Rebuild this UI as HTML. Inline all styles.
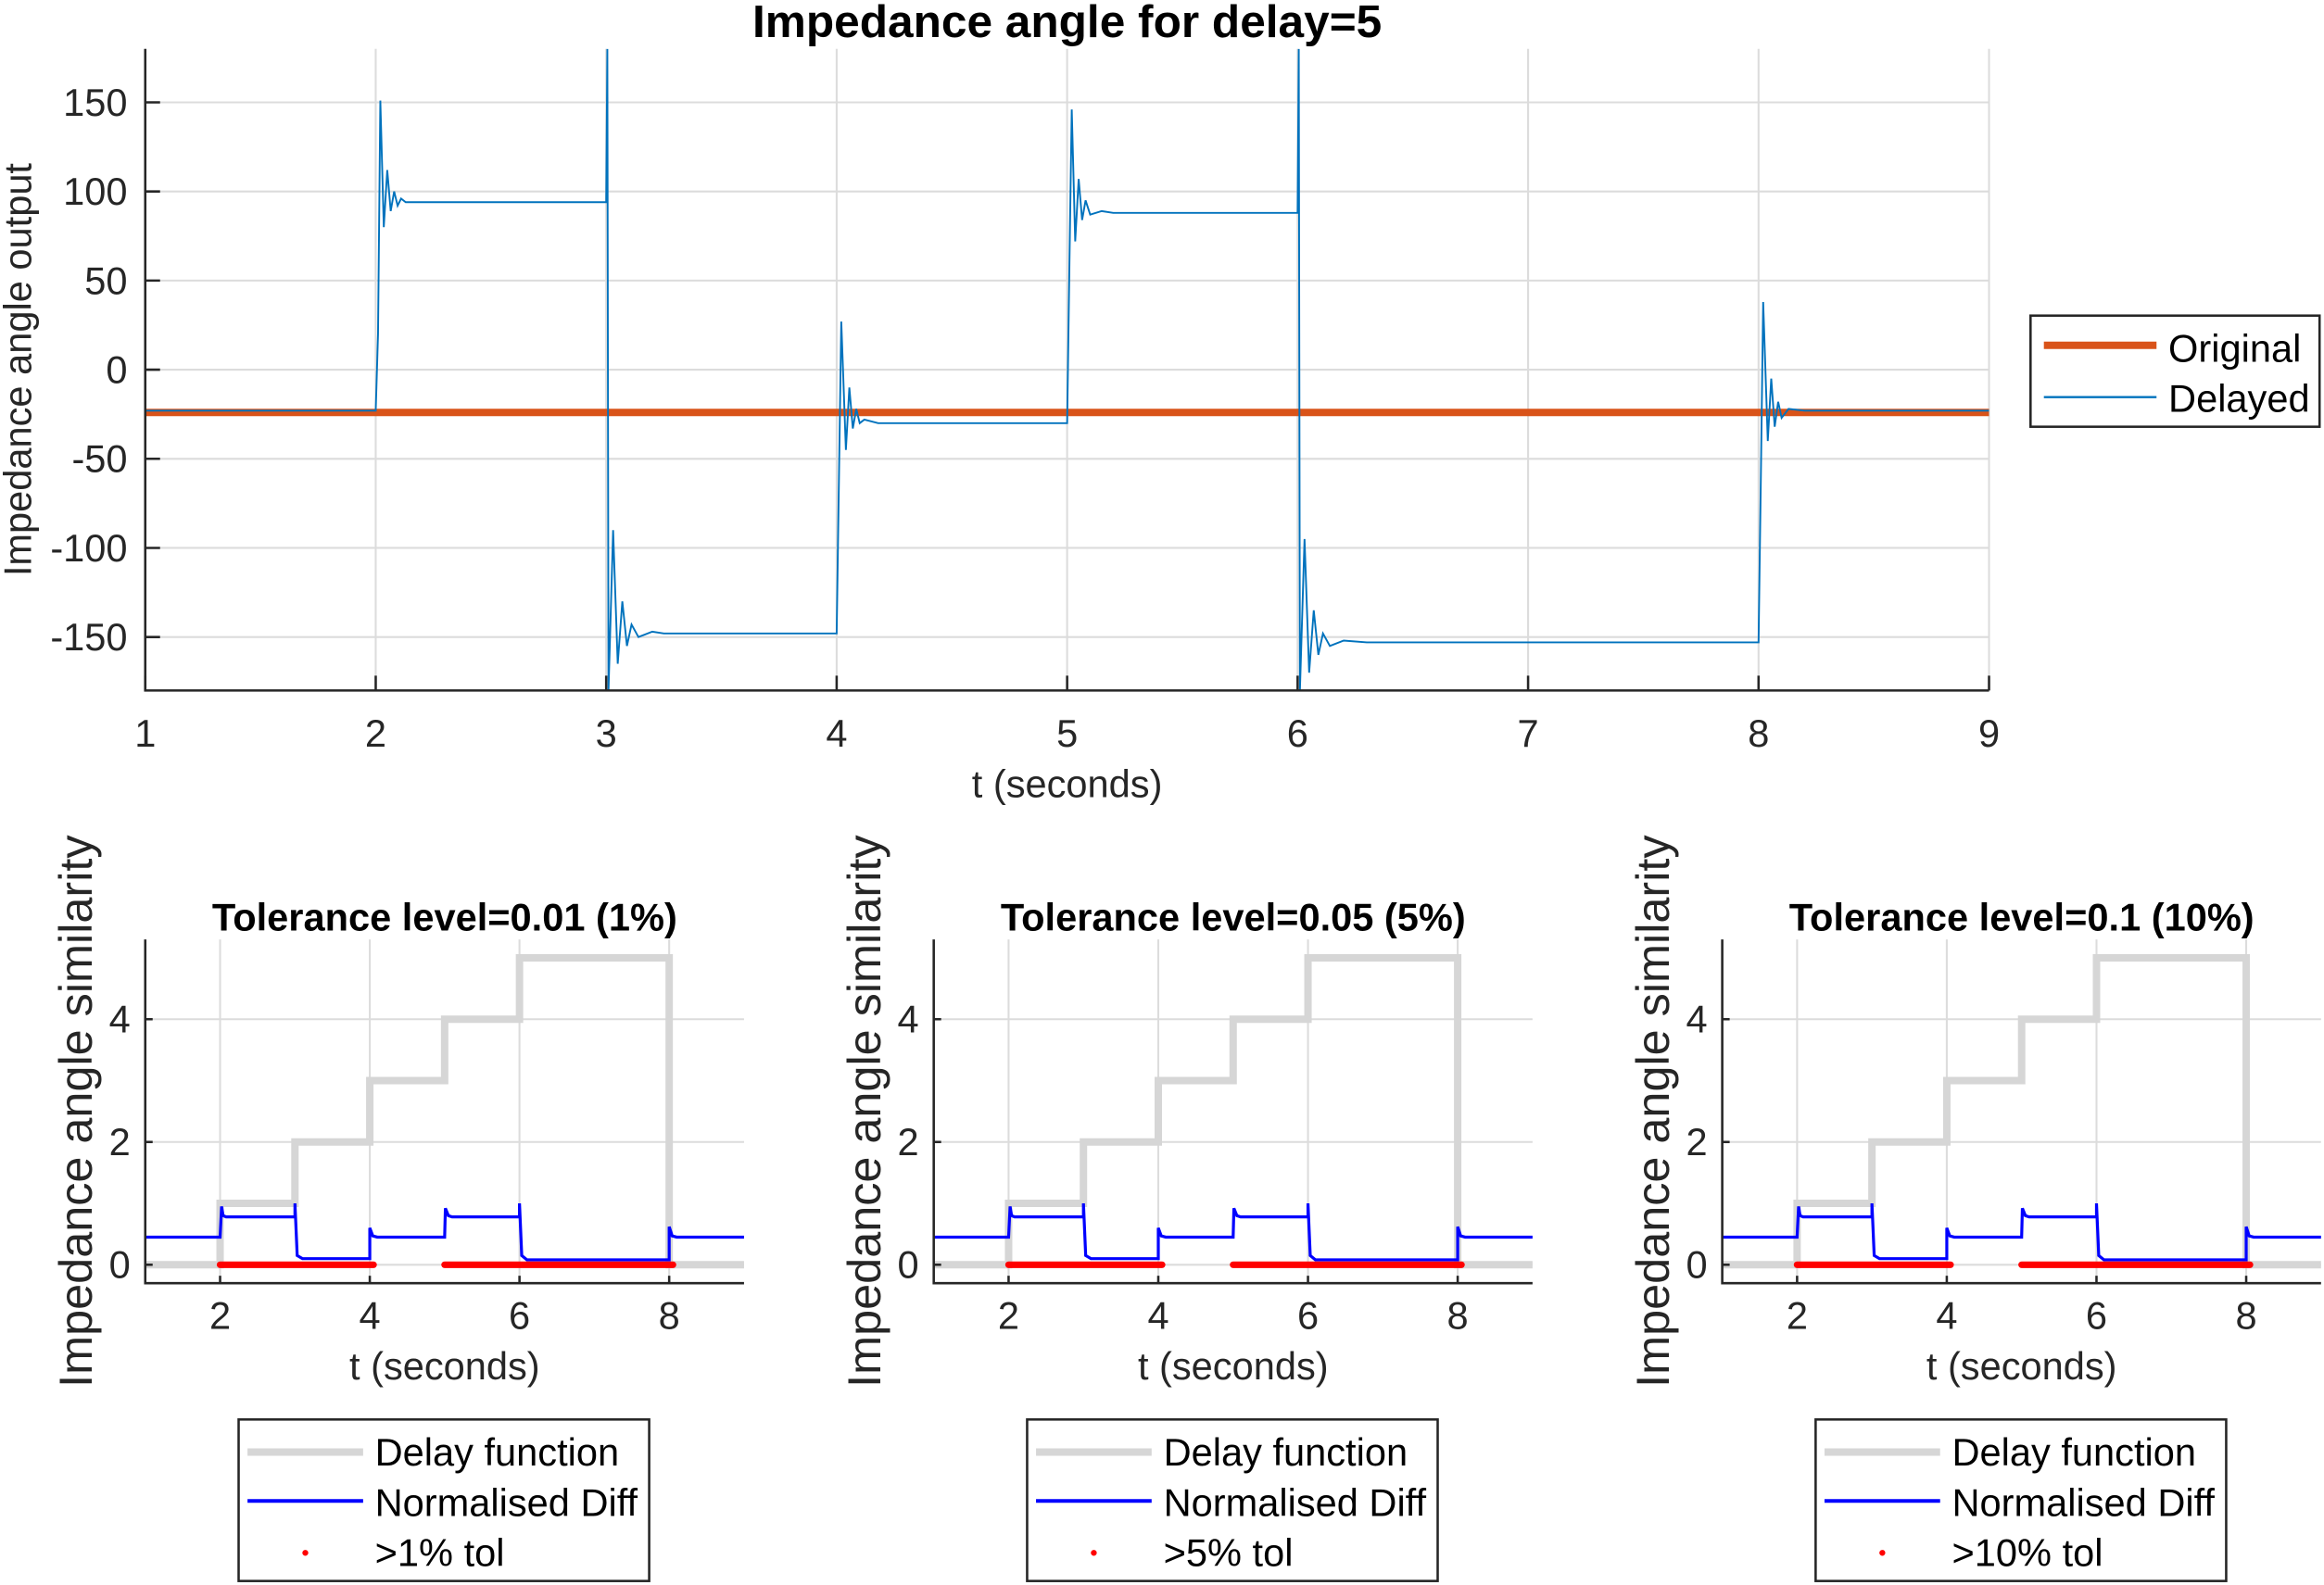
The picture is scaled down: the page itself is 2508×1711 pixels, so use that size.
<!DOCTYPE html>
<html><head><meta charset="utf-8"><style>
html,body{margin:0;padding:0;background:#fff;}
svg{display:block;font-family:"Liberation Sans",Arial,sans-serif;}
</style></head><body>
<svg id="fig" width="2508" height="1711" viewBox="0 0 1568 1069.7" xmlns="http://www.w3.org/2000/svg"></svg>
<script>
// ===== Top chart data =====
const topXTicks = [1,2,3,4,5,6,7,8,9];
const topYTicks = [-150,-100,-50,0,50,100,150];
const originalT = [1, 9];
const originalV = [-24, -24];
const delayedT = [1,2,2.01,2.02,2.035,2.05,2.065,2.08,2.095,2.11,2.13,3.0,3.005,3.01,3.03,3.05,3.07,3.09,3.11,3.14,3.2,3.25,4,4.01,4.02,4.04,4.055,4.07,4.085,4.1,4.12,4.18,5,5.01,5.02,5.035,5.05,5.065,5.08,5.1,5.15,5.2,6,6.005,6.01,6.03,6.05,6.07,6.09,6.11,6.14,6.2,6.3,8,8.01,8.02,8.04,8.055,8.07,8.085,8.1,8.13,8.2,9];
const delayedV = [-23,-23,20,151,80,112,89,100,92,96,94,94,180,-180,-90,-165,-130,-155,-143,-150,-147,-148,-148,-60,27,-45,-10,-33,-22,-30,-28,-30,-30,60,146,72,107,84,95,87,89,88,88,180,-180,-95,-170,-135,-160,-148,-155,-152,-153,-153,-60,38,-40,-5,-32,-18,-27,-22,-23,-23];

// ===== Bottom charts data =====
const botXTicks = [2,4,6,8];
const botYTicks = [0,2,4];
const delayFnT = [1,2,2,3,3,4,4,5,5,6,6,8,8,9];
const delayFnV = [0,0,1,1,2,2,3,3,4,4,5,5,0,0];
const diffT = [1,2,2.02,2.04,2.08,3,3,3.03,3.1,4,4,4.04,4.1,5,5.01,5.05,5.1,6,6,6.03,6.1,8,8,8.04,8.1,9];
const diffV = [0.45,0.45,0.95,0.8,0.78,0.78,1.0,0.15,0.1,0.1,0.6,0.47,0.45,0.45,0.92,0.8,0.78,0.78,1.0,0.15,0.08,0.08,0.62,0.47,0.45,0.45];
const tolStart = [2,5];
const tolEnd = [4.05,8.05];
const panelTitles = ["Tolerance level=0.01 (1%)","Tolerance level=0.05 (5%)","Tolerance level=0.1 (10%)"];
const tolLabels = [">1% tol",">5% tol",">10% tol"];

const NS = "http://www.w3.org/2000/svg";
const svg = document.getElementById('fig');
function mk(tag, attrs, parent){
  const e = document.createElementNS(NS, tag);
  for (const k in attrs) e.setAttribute(k, attrs[k]);
  (parent||svg).appendChild(e);
  return e;
}
function txt(s, attrs, parent){ const e = mk('text', attrs, parent); e.textContent = s; return e; }

// ---- Top chart ----
const T = {x0:98, x1:1342, y0:33, y1:466, xmin:1, xmax:9, ymin:-180, ymax:180};
const tx = v => T.x0 + (v - T.xmin)/(T.xmax - T.xmin)*(T.x1 - T.x0);
const ty = v => T.y1 - (v - T.ymin)/(T.ymax - T.ymin)*(T.y1 - T.y0);
const gTop = mk('g', {});


mk('defs', {}).innerHTML = '<clipPath id="clipTop"><rect x="98" y="33" width="1244" height="433"/></clipPath>';
topXTicks.forEach(v => {
  const l = mk('line', {x1:tx(v), x2:tx(v), y1:T.y0, y2:T.y1, stroke:'#dcdcdc', 'stroke-width':1.3}, gTop);
  
  
});
topYTicks.forEach(v => {
  const l = mk('line', {x1:T.x0, x2:T.x1, y1:ty(v), y2:ty(v), stroke:'#dcdcdc', 'stroke-width':1.3}, gTop);
  
  
});
const gClip = mk('g', {'clip-path':'url(#clipTop)'}, gTop);
const orig = mk('polyline', {points: originalT.map((t,i)=>tx(t)+','+ty(originalV[i])).join(' '), fill:'none', stroke:'#D95319', 'stroke-width':5}, gClip);


const del = mk('polyline', {points: delayedT.map((t,i)=>tx(t)+','+ty(delayedV[i])).join(' '), fill:'none', stroke:'#0072BD', 'stroke-width':1.2}, gClip);


const axT = mk('path', {d:`M${T.x0},${T.y0} V${T.y1} H${T.x1}`, fill:'none', stroke:'#262626', 'stroke-width':1.6}, gTop);


topXTicks.forEach(v => {
  mk('line', {x1:tx(v), x2:tx(v), y1:T.y1, y2:T.y1-10, stroke:'#262626', 'stroke-width':1.6}, gTop);
  const t = txt(String(v), {x:tx(v), y:T.y1+38, 'text-anchor':'middle', 'font-size':26, fill:'#262626'}, gTop);
  
  
});
topYTicks.forEach(v => {
  mk('line', {x1:T.x0, x2:T.x0+10, y1:ty(v), y2:ty(v), stroke:'#262626', 'stroke-width':1.6}, gTop);
  const t = txt(String(v), {x:T.x0-12, y:ty(v)+9, 'text-anchor':'end', 'font-size':26, fill:'#262626'}, gTop);
  
  
});
const tt = txt('Impedance angle for delay=5', {x:720, y:25, 'text-anchor':'middle', 'font-size':31, 'font-weight':'bold', fill:'#000'});


const xt = txt('t (seconds)', {x:tx(5), y:538, 'text-anchor':'middle', 'font-size':26, fill:'#262626'});


const yt = txt('Impedance angle output', {x:0, y:0, 'text-anchor':'middle', 'font-size':26, fill:'#262626', transform:`translate(21,${ty(0)}) rotate(-90)`});


// top legend
const lg = mk('g', {});


mk('rect', {x:1370, y:213, width:195, height:75, fill:'#fff', stroke:'#262626', 'stroke-width':1.6}, lg);
mk('line', {x1:1379, x2:1455, y1:233, y2:233, stroke:'#D95319', 'stroke-width':5}, lg);
mk('line', {x1:1379, x2:1455, y1:268, y2:268, stroke:'#0072BD', 'stroke-width':1.5}, lg);
const l1 = txt('Original', {x:1463, y:244, 'font-size':26, fill:'#000'}, lg);


const l2 = txt('Delayed', {x:1463, y:278, 'font-size':26, fill:'#000'}, lg);



// ---- Bottom panels ----
for (let p = 0; p < 3; p++) {
  const off = p*532;
  const B = {x0:98+off, x1:502+off, y0:634, y1:866, xmin:1, xmax:9, ymin:-0.3, ymax:5.3};
  const bx = v => B.x0 + (v - B.xmin)/(B.xmax - B.xmin)*(B.x1 - B.x0);
  const by = v => B.y1 - (v - B.ymin)/(B.ymax - B.ymin)*(B.y1 - B.y0);
  const g = mk('g', {});
  
  
  botXTicks.forEach(v => mk('line', {x1:bx(v), x2:bx(v), y1:B.y0, y2:B.y1, stroke:'#dcdcdc', 'stroke-width':1.3}, g));
  botYTicks.forEach(v => mk('line', {x1:B.x0, x2:B.x1, y1:by(v), y2:by(v), stroke:'#dcdcdc', 'stroke-width':1.3}, g));
  const df = mk('polyline', {points: delayFnT.map((t,i)=>bx(t)+','+by(delayFnV[i])).join(' '), fill:'none', stroke:'#d6d6d6', 'stroke-width':5}, g);
  
  
  const nd = mk('polyline', {points: diffT.map((t,i)=>bx(t)+','+by(diffV[i])).join(' '), fill:'none', stroke:'#0000FF', 'stroke-width':2}, g);
  
  
  tolStart.forEach((s,i) => {
    const r = mk('line', {x1:bx(s), x2:bx(tolEnd[i]), y1:by(0), y2:by(0), stroke:'#FF0000', 'stroke-width':4.5, 'stroke-linecap':'round'}, g);
    
    
  });
  mk('path', {d:`M${B.x0},${B.y0} V${B.y1} H${B.x1}`, fill:'none', stroke:'#262626', 'stroke-width':1.6}, g);
  botXTicks.forEach(v => {
    mk('line', {x1:bx(v), x2:bx(v), y1:B.y1, y2:B.y1-5, stroke:'#262626', 'stroke-width':1.6}, g);
    const t = txt(String(v), {x:bx(v), y:B.y1+31, 'text-anchor':'middle', 'font-size':26, fill:'#262626'}, g);
    
    
  });
  botYTicks.forEach(v => {
    mk('line', {x1:B.x0, x2:B.x0+5, y1:by(v), y2:by(v), stroke:'#262626', 'stroke-width':1.6}, g);
    const t = txt(String(v), {x:B.x0-10, y:by(v)+9, 'text-anchor':'end', 'font-size':26, fill:'#262626'}, g);
    
    
  });
  const ti = txt(panelTitles[p], {x:300+off, y:628, 'text-anchor':'middle', 'font-size':26, 'font-weight':'bold', fill:'#000'}, g);
  
  
  const xl = txt('t (seconds)', {x:bx(5), y:931, 'text-anchor':'middle', 'font-size':26, fill:'#262626'}, g);
  
  
  const yl = txt('Impedance angle similarity', {x:0, y:0, 'text-anchor':'middle', 'font-size':31.5, fill:'#262626', transform:`translate(${62+off},750) rotate(-90)`}, g);
  
  
  // legend
  const L = mk('g', {}, g);
  
  
  mk('rect', {x:161+off, y:958, width:277, height:109, fill:'#fff', stroke:'#262626', 'stroke-width':1.6}, L);
  mk('line', {x1:167+off, x2:245+off, y1:980, y2:980, stroke:'#d6d6d6', 'stroke-width':5}, L);
  mk('line', {x1:167+off, x2:245+off, y1:1013, y2:1013, stroke:'#0000FF', 'stroke-width':2.5}, L);
  mk('circle', {cx:206+off, cy:1048, r:2, fill:'#FF0000'}, L);
  const e1 = txt('Delay function', {x:253+off, y:989, 'font-size':26, fill:'#000'}, L);
  
  
  const e2 = txt('Normalised Diff', {x:253+off, y:1023, 'font-size':26, fill:'#000'}, L);
  
  
  const e3 = txt(tolLabels[p], {x:253+off, y:1057, 'font-size':26, fill:'#000'}, L);
  
  
}
</script>
</body></html>
